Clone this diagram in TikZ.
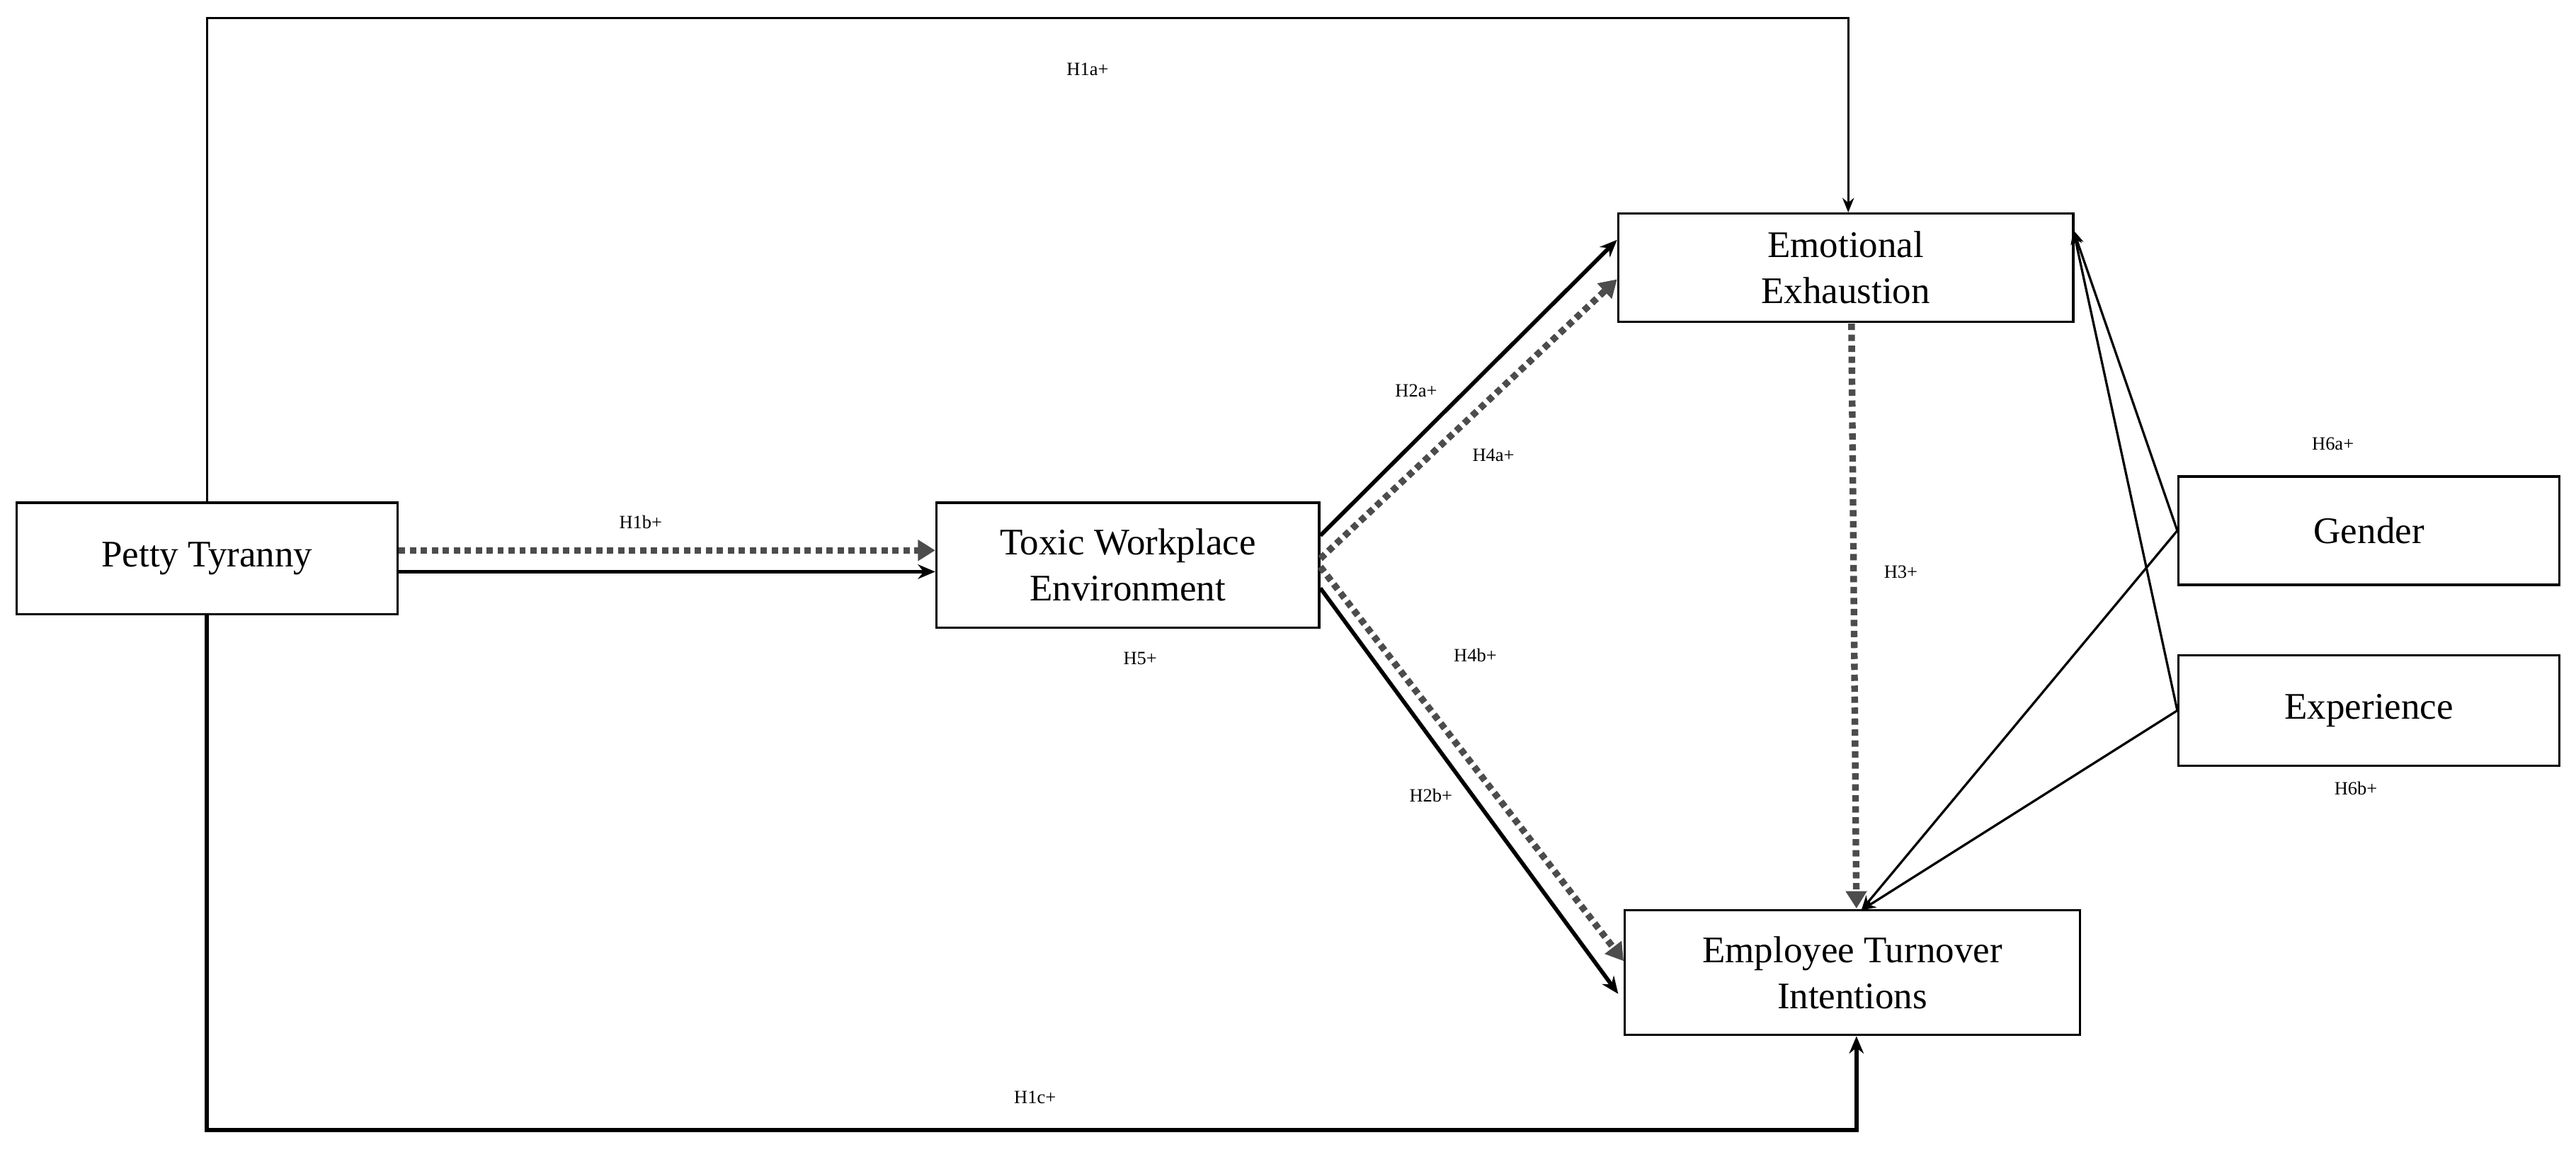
\documentclass[tikz,border=0pt]{standalone}
\usepackage{fontspec}
\setmainfont{Liberation Serif}
\usetikzlibrary{arrows.meta}
\begin{document}
\begin{tikzpicture}[x=0.02cm,y=-0.02cm,
 box/.style={draw,line width=0.8pt,inner sep=0pt,align=center,font=\fontsize{13}{16}\selectfont},
 lab/.style={font=\fontsize{6.5}{8}\selectfont},
 solid/.style={line width=1.4pt,-{Stealth[length=6pt,width=5pt]}},
 dot/.style={line width=2.3pt,black!70,dash pattern=on 2.2pt off 1.6pt,-{Triangle[length=6pt,width=7pt]}},
 thin/.style={line width=0.8pt}]
\useasboundingbox (0,0) rectangle (1568,701);
\node[box,minimum width=232*0.02cm,minimum height=68*0.02cm] (pt) at (126,340) {Petty Tyranny};
\node[box,minimum width=233*0.02cm,minimum height=76*0.02cm] (twe) at (686.5,344) {Toxic Workplace\\Environment};
\node[box,minimum width=277*0.02cm,minimum height=66*0.02cm] (ee) at (1123.5,163) {Emotional\\Exhaustion};
\node[box,minimum width=277*0.02cm,minimum height=76*0.02cm] (eti) at (1127.5,592) {Employee Turnover\\Intentions};
\node[box,minimum width=232*0.02cm,minimum height=66*0.02cm] (gen) at (1442,323) {Gender};
\node[box,minimum width=232*0.02cm,minimum height=67*0.02cm] (exp) at (1442,432.5) {Experience};
% frame
\coordinate (tl) at (126,11); \coordinate (tr) at (1125,11);
\coordinate (bl) at (126,688); \coordinate (br) at (1130,688);
\draw[thin,-{Stealth[length=5pt,width=4pt]}] (pt.north) -- (tl) -- (tr) -- (ee.north-|tr);
\draw[line width=1.4pt,-{Stealth[length=6pt,width=5pt]}] (pt.south) -- (bl) -- (br) -- (eti.south-|br);
% H1b
\draw[dot] (pt.east|-0,335) -- (twe.west|-0,335);
\draw[solid] (pt.east|-0,348) -- (twe.west|-0,348);
% from TWE
\draw[solid] (twe.east|-0,326) -- (ee.west|-0,146);
\draw[dot] (twe.east|-0,340) -- (ee.west|-0,170);
\draw[dot] (twe.east|-0,345) -- (eti.west|-0,585);
\draw[solid] (twe.east|-0,358) -- (985,605);
% H3
\draw[dot] (1127,197) -- (1130,553);
% moderators
\coordinate (eec) at (1262,140);
\coordinate (etic) at (1133,554);
\draw[thin,-{Stealth[length=5pt,width=4pt]}] (gen.west) -- (eec);
\draw[thin,-{Stealth[length=5pt,width=4pt]}] (exp.west) -- (eec);
\draw[thin,-{Stealth[length=5pt,width=4pt]}] (gen.west) -- (etic);
\draw[thin,-{Stealth[length=5pt,width=4pt]}] (exp.west) -- (etic);
% labels
\node[lab] at (662,42) {H1a+};
\node[lab] at (390,318) {H1b+};
\node[lab] at (694,401) {H5+};
\node[lab] at (862,238) {H2a+};
\node[lab] at (909,277) {H4a+};
\node[lab] at (898,399) {H4b+};
\node[lab] at (871,484) {H2b+};
\node[lab] at (1157,348) {H3+};
\node[lab] at (1420,270) {H6a+};
\node[lab] at (1434,480) {H6b+};
\node[lab] at (630,668) {H1c+};
\end{tikzpicture}
\end{document}
